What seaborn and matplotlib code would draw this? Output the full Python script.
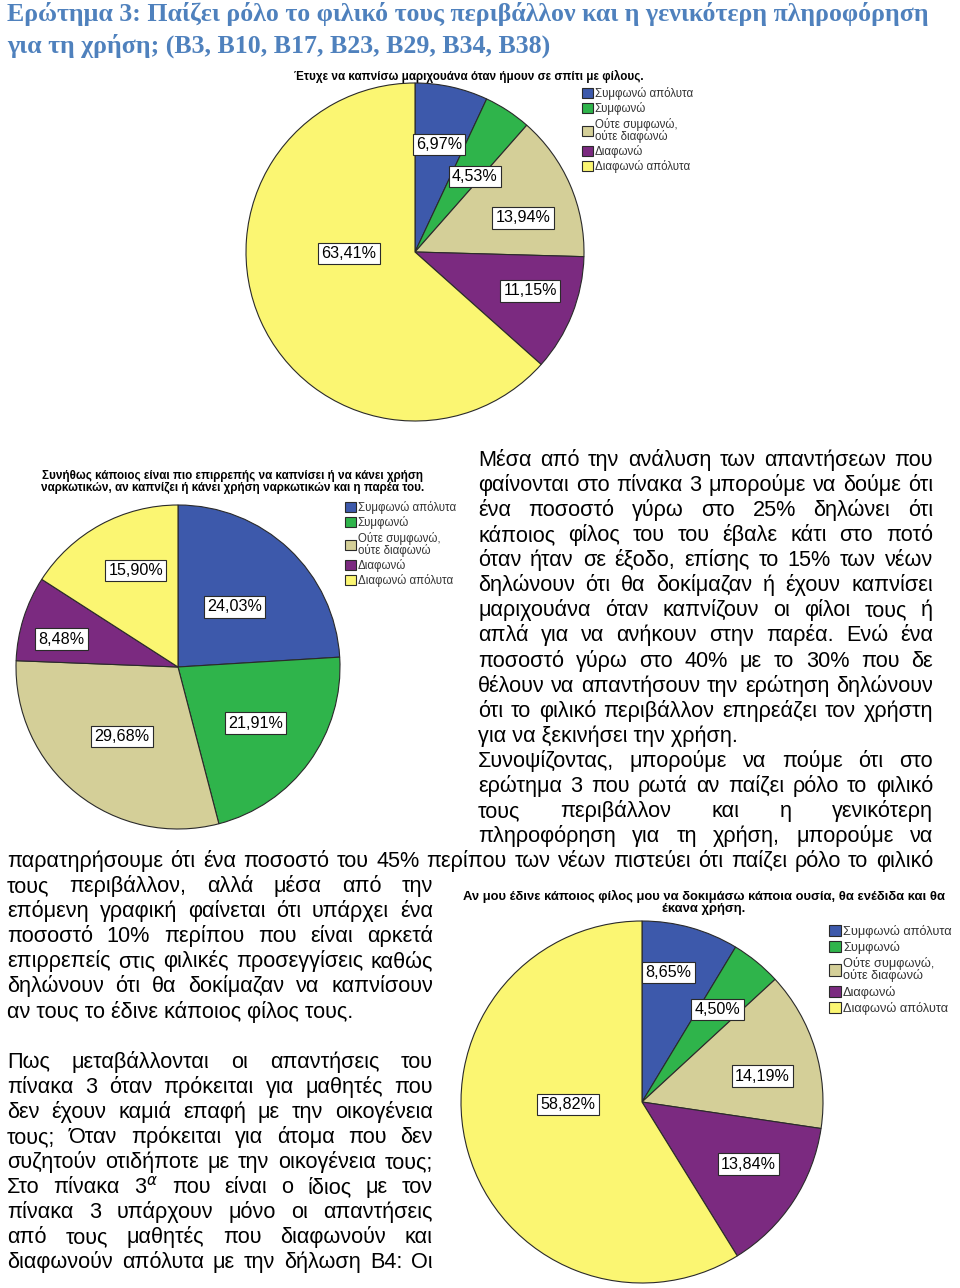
import numpy as np
import matplotlib
matplotlib.use('Agg')
import matplotlib.pyplot as plt
import seaborn as sns

# DATA

categories = ['Συμφωνώ απόλυτα', 'Συμφωνώ', 'Ούτε συμφωνώ,\nούτε διαφωνώ', 'Διαφωνώ', 'Διαφωνώ απόλυτα']
slice_colors = ['#3d59ab', '#2fb44b', '#d4cf98', '#7b2a80', '#fbf672']

pie1_title = 'Έτυχε να καπνίσω μαριχουάνα όταν ήμουν σε σπίτι με φίλους.'
pie1_values = [6.97, 4.53, 13.94, 11.15, 63.41]

pie2_title = ('Συνήθως κάποιος είναι πιο επιρρεπής να καπνίσει ή να κάνει χρήση\n'
              'ναρκωτικών, αν καπνίζει ή κάνει χρήση ναρκωτικών και η παρέα του.')
pie2_values = [24.03, 21.91, 29.68, 8.48, 15.90]

pie3_title = ('Αν μου έδινε κάποιος φίλος μου να δοκιμάσω κάποια ουσία, θα ενέδιδα και θα\n'
              'έκανα χρήση.')
pie3_values = [8.65, 4.50, 14.19, 13.84, 58.82]

heading = ['Ερώτημα 3: Παίζει ρόλο το φιλικό τους περιβάλλον και η γενικότερη πληροφόρηση',
           'για τη χρήση; (B3, B10, B17, B23, B29, B34, B38)']

right_lines = [
    'Μέσα από την ανάλυση των απαντήσεων που',
    'φαίνονται στο πίνακα 3 μπορούμε να δούμε ότι',
    'ένα ποσοστό γύρω στο 25% δηλώνει ότι',
    'κάποιος φίλος του του έβαλε κάτι στο ποτό',
    'όταν ήταν σε έξοδο, επίσης το 15% των νέων',
    'δηλώνουν ότι θα δοκίμαζαν ή έχουν καπνίσει',
    'μαριχουάνα όταν καπνίζουν οι φίλοι τους ή',
    'απλά για να ανήκουν στην παρέα. Ενώ ένα',
    'ποσοστό γύρω στο 40% με το 30% που δε',
    'θέλουν να απαντήσουν την ερώτηση δηλώνουν',
    'ότι το φιλικό περιβάλλον επηρεάζει τον χρήστη',
    'για να ξεκινήσει την χρήση.',
    'Συνοψίζοντας, μπορούμε να πούμε ότι στο',
    'ερώτημα 3 που ρωτά αν παίζει ρόλο το φιλικό',
    'τους περιβάλλον και η γενικότερη',
    'πληροφόρηση για τη χρήση, μπορούμε να',
]
wide_line = 'παρατηρήσουμε ότι ένα ποσοστό του 45% περίπου των νέων πιστεύει ότι παίζει ρόλο το φιλικό'
left_lines = [
    'τους περιβάλλον, αλλά μέσα από την',
    'επόμενη γραφική φαίνεται ότι υπάρχει ένα',
    'ποσοστό 10% περίπου που είναι αρκετά',
    'επιρρεπείς στις φιλικές προσεγγίσεις καθώς',
    'δηλώνουν ότι θα δοκίμαζαν να καπνίσουν',
    'αν τους το έδινε κάποιος φίλος τους.',
    '',
    'Πως μεταβάλλονται οι απαντήσεις του',
    'πίνακα 3 όταν πρόκειται για μαθητές που',
    'δεν έχουν καμιά επαφή με την οικογένεια',
    'τους; Όταν πρόκειται για άτομα που δεν',
    'συζητούν οτιδήποτε με την οικογένεια τους;',
    'Στο πίνακα 3$^{\\alpha}$ που είναι ο ίδιος με τον',
    'πίνακα 3 υπάρχουν μόνο οι απαντήσεις',
    'από τους μαθητές που διαφωνούν και',
    'διαφωνούν απόλυτα με την δήλωση Β4: Οι',
]
paragraph_ends = {'για να ξεκινήσει την χρήση.', 'αν τους το έδινε κάποιος φίλος τους.'}

# STYLE / LAYOUT

W, H = 960, 1288
sns.set_theme(style='white')
plt.rcParams['font.family'] = ['Liberation Sans', 'DejaVu Sans']

fig = plt.figure(figsize=(W / 100, H / 100), dpi=100)
fig.patch.set_facecolor('white')

# full-page axes in pixel units for the running text
page = fig.add_axes([0, 0, 1, 1])
page.set_xlim(0, W)
page.set_ylim(H, 0)
page.set_axis_off()

renderer = fig.canvas.get_renderer()

# heading, fitted to the width of the first line
head_color = '#4f81bd'
probe = page.text(7, 21, heading[0], fontsize=20, fontweight='bold',
                  family=['Liberation Serif', 'DejaVu Serif'], color=head_color, va='baseline')
head_size = 20 * 921 / probe.get_window_extent(renderer).width
probe.set_fontsize(head_size)
page.text(7, 53, heading[1], fontsize=head_size, fontweight='bold',
          family=['Liberation Serif', 'DejaVu Serif'], color=head_color, va='baseline')

BODY = 15.6


def put_line(text, x0, x1, yc, justify):
    yb = yc + 6
    if not text:
        return
    if not justify:
        page.text(x0, yb, text, fontsize=BODY, va='baseline', color='black')
        return
    words = text.split(' ')
    arts = [page.text(x0, yb, w, fontsize=BODY, va='baseline', color='black') for w in words]
    widths = [a.get_window_extent(renderer).width for a in arts]
    gap = (x1 - x0 - sum(widths)) / max(len(words) - 1, 1)
    x = x0
    for a, w in zip(arts, widths):
        a.set_x(x)
        x += w + gap


pitch = 25.07
y0 = 460
row = 0
for line in right_lines:
    put_line(line, 478, 933, y0 + row * pitch, line not in paragraph_ends)
    row += 1
put_line(wide_line, 7, 933, y0 + row * pitch, True)
row += 1
for line in left_lines:
    put_line(line, 7, 433, y0 + row * pitch, line not in paragraph_ends)
    row += 1


def draw_pie(values, cx, cy, r, title, title_xy, title_size, leg_xy, leg_size, leg_space,
             label_r, label_shift):
    ax = fig.add_axes([(cx - r) / W, 1 - (cy + r) / H, 2 * r / W, 2 * r / H])
    wedges, _ = ax.pie(values, colors=slice_colors, startangle=90, counterclock=False,
                       wedgeprops=dict(edgecolor='#2a2a2a', linewidth=0.8))
    ax.set_xlim(-1, 1)
    ax.set_ylim(-1, 1)
    ax.set_axis_off()
    for w, v, d, s in zip(wedges, values, label_r, label_shift):
        ang = np.deg2rad((w.theta1 + w.theta2) / 2 + s)
        ax.text(d * np.cos(ang), d * np.sin(ang), f'{v:.2f}'.replace('.', ',') + '%',
                ha='center', va='center', fontsize=11.6, color='black',
                bbox=dict(boxstyle='square,pad=0.2', fc='white', ec='#2a2a2a', lw=0.8))
    page.text(title_xy[0], title_xy[1], title, ha='center', va='top', fontsize=title_size,
              fontweight='bold', color='black', linespacing=1.0)
    leg = fig.legend(wedges, categories, loc='upper left',
                     bbox_to_anchor=(leg_xy[0] / W, 1 - leg_xy[1] / H), bbox_transform=fig.transFigure,
                     frameon=False, handlelength=0.95, handleheight=0.95,
                     handletextpad=0.15, labelspacing=leg_space, borderpad=0, borderaxespad=0,
                     labelcolor='#333333',
                     prop=dict(family=['Liberation Sans Narrow', 'Liberation Sans'], size=leg_size))
    for t in leg.get_texts():
        t.set_linespacing(0.9)


draw_pie(pie1_values, 415, 252, 169, pie1_title, (469, 70), 8.35, (582, 87), 8.3, 0.2,
         [0.65, 0.57, 0.67, 0.72, 0.39], [0, -5, -6, 3, -23])
draw_pie(pie2_values, 178, 667, 162, pie2_title, (233, 470), 8.35, (345, 501), 8.3, 0.2,
         [0.51, 0.59, 0.55, 0.74, 0.65], [0, 0, 0, 4, -5])
draw_pie(pie3_values, 642, 1102, 181, pie3_title, (704, 890), 9.4, (829, 925), 9.2, 0.25,
         [0.73, 0.66, 0.68, 0.68, 0.41], [4, 0, -5, 3, -14])

fig.savefig('out.png', dpi=100, facecolor='white')
